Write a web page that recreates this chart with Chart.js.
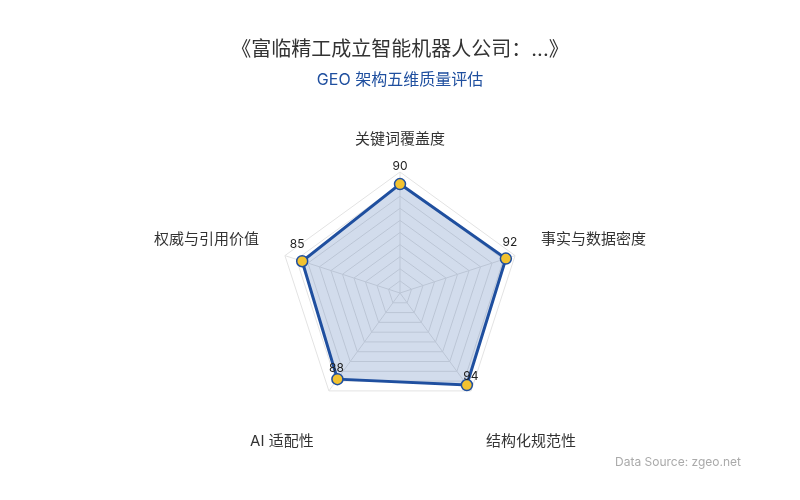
<!DOCTYPE html>
<html>
<head>
<meta charset="utf-8">
<script src="https://cdn.jsdelivr.net/npm/chart.js@4.4.1/dist/chart.umd.min.js"></script>
<style>
  html, body { margin: 0; padding: 0; background: #fff; }
  #wrap { width: 800px; height: 500px; position: relative; }
</style>
</head>
<body>
<div id="wrap"><canvas id="radar"></canvas></div>
<script>
// data
const dimensions = ['关键词覆盖度', '事实与数据密度', '结构化规范性', 'AI 适配性', '权威与引用价值'];
const scores = [90, 92, 94, 88, 85];
const titleText = '《富临精工成立智能机器人公司：...》';
const subtitleText = 'GEO 架构五维质量评估';
const sourceText = 'Data Source: zgeo.net';

const FONT = 'Inter, "Noto Sans CJK SC", sans-serif';

// axis names placed around the outer ring (built-in point labels are off)
const axisNames = {
  id: 'axisNames',
  afterDraw(chart) {
    const ctx = chart.ctx;
    const r = chart.scales.r;
    const dx = [0, 26, 60, -47, -26];
    const dy = [-33, -16, 51, 51, -16];
    const align = ['center', 'left', 'center', 'center', 'right'];
    ctx.save();
    ctx.font = '15px ' + FONT;
    ctx.fillStyle = '#333';
    ctx.textBaseline = 'middle';
    dimensions.forEach((name, i) => {
      const p = r.getPointPosition(i, r.drawingArea);
      ctx.textAlign = align[i];
      ctx.fillText(name, p.x + dx[i], p.y + dy[i]);
    });
    ctx.restore();
  }
};

// numbers near each point + source note
const valueLabels = {
  id: 'valueLabels',
  afterDatasetsDraw(chart) {
    const ctx = chart.ctx;
    const meta = chart.getDatasetMeta(0);
    // label nudges, the bottom ones sit closer to their points
    const dx = [0, 4, 4, -1, -5];
    const dy = [-18, -16, -9, -11, -17];
    ctx.save();
    ctx.font = '12px ' + FONT;
    ctx.fillStyle = '#222';
    ctx.textAlign = 'center';
    ctx.textBaseline = 'middle';
    meta.data.forEach((pt, i) => {
      ctx.fillText(scores[i], pt.x + dx[i], pt.y + dy[i]);
    });
    ctx.font = '12px ' + FONT;
    ctx.fillStyle = '#aaa';
    ctx.textAlign = 'right';
    ctx.fillText(sourceText, 741, 462);
    ctx.restore();
  }
};

new Chart(document.getElementById('radar'), {
  type: 'radar',
  data: {
    labels: dimensions,
    datasets: [{
      label: '评分',
      data: scores,
      borderColor: '#1f4f9f',
      backgroundColor: 'rgba(31, 79, 159, 0.2)',
      borderWidth: 3,
      pointBackgroundColor: '#f2c230',
      pointBorderColor: '#1f4f9f',
      pointBorderWidth: 1.5,
      pointRadius: 5.5,
      fill: true
    }]
  },
  options: {
    responsive: true,
    maintainAspectRatio: false,
    animation: false,
    layout: { padding: { top: 0, bottom: 85, left: 20, right: 20 } },
    plugins: {
      legend: { display: false },
      tooltip: { enabled: false },
      title: {
        display: true,
        text: titleText,
        color: '#333',
        font: { size: 20, family: FONT, weight: 'normal' },
        padding: { top: 38, bottom: 9 }
      },
      subtitle: {
        display: true,
        text: subtitleText,
        color: '#1f4f9f',
        font: { size: 16, family: FONT, weight: 'normal' },
        padding: { bottom: 81 }
      }
    },
    scales: {
      r: {
        min: 0,
        max: 100,
        ticks: { display: false, stepSize: 10 },
        grid: { color: '#e3e3e3' },
        angleLines: { color: '#e3e3e3' },
        pointLabels: { display: false }
      }
    }
  },
  plugins: [valueLabels, axisNames]
});
</script>
</body>
</html>
